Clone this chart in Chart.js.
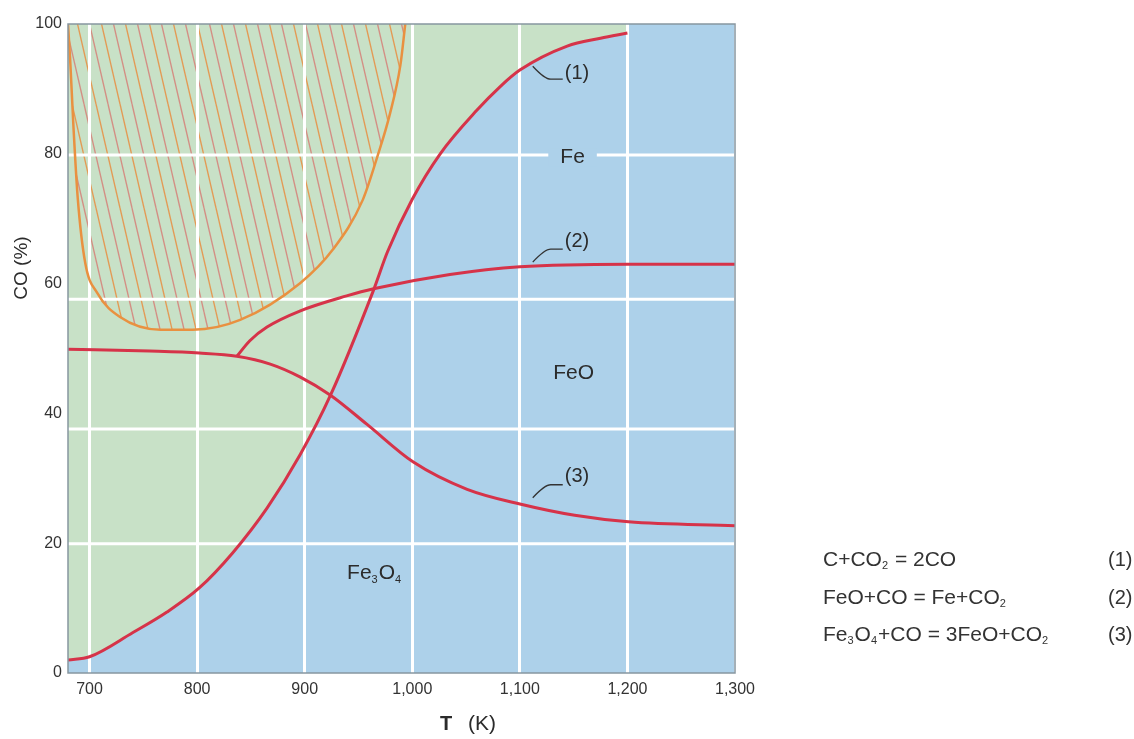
<!DOCTYPE html>
<html lang="en">
<head>
<meta charset="UTF-8">
<title>Fe-C-O equilibrium</title>
<script src="https://cdn.jsdelivr.net/npm/chart.js"></script>
<style>
  html, body { margin: 0; padding: 0; background: #fff; }
  #wrap { width: 1134px; height: 739px; }
</style>
</head>
<body>
<div id="wrap"><canvas id="chart" width="1134" height="739"></canvas></div>
<script>
// (1) C + CO2 = 2CO
const curve1T  = [680, 700, 740, 772, 802, 833, 865, 896, 924, 964, 977, 1000, 1026, 1060, 1082, 1100, 1144, 1175, 1200];
const curve1CO = [2.0, 2.5, 6.2, 9.4, 13.1, 18.5, 25.4, 33.7, 42.8, 59.0, 64.9, 73.0, 80.0, 86.7, 90.4, 92.9, 96.6, 97.8, 98.6];

// (2) FeO + CO = Fe + CO2
const curve2T  = [837, 849, 865, 896, 939, 964, 1035, 1100, 1200, 1300];
const curve2CO = [48.8, 51.2, 53.3, 55.8, 58.1, 59.2, 61.4, 62.6, 63.0, 63.0];

// (3) Fe3O4 + CO = 3FeO + CO2
const curve3T  = [680, 756, 802, 837, 868, 896, 924, 958, 1001, 1051, 1101, 1151, 1201, 1300];
const curve3CO = [49.9, 49.6, 49.3, 48.8, 47.6, 45.6, 42.8, 38.3, 32.5, 28.3, 26.0, 24.3, 23.3, 22.7];

// hatched zone (orange boundary)
const sootT  = [680, 682, 685, 689, 696, 707, 728, 766, 796, 840, 896, 926, 954, 968, 979, 989, 993.5];
const sootCO = [100, 94.5, 84.4, 73.3, 63.2, 58.6, 54.9, 52.9, 52.9, 54.4, 60.1, 65.2, 72.9, 79.8, 86.0, 93.7, 100];

// blue field continues to the top right of where curve (1) ends
const edgeT  = [1200, 1300];
const edgeCO = [100, 100];

const xTickValues = [700, 800, 900, 1000, 1100, 1200, 1300];
const yTickValues = [0, 20, 40, 60, 80, 100];
// the source figure's horizontal rules sit a little below its 40 / 60 labels
const yRuleValues = [19.9, 37.6, 57.6, 79.8];

// region names ("_3" = subscript 3)
const regionNames = ['Fe', 'FeO', 'Fe_3O_4'];
const regionT     = [1149, 1150, 965];
const regionCO    = [79.5, 46.2, 15.3];
const regionGap   = [true, false, false];

// curve tags with their leader lines
const tagNames = ['(1)', '(2)', '(3)'];
const tagT     = [1112, 1112, 1112];
const tagCO    = [93.5, 63.3, 27.0];

const equations = ['C+CO_2 = 2CO', 'FeO+CO = Fe+CO_2', 'Fe_3O_4+CO = 3FeO+CO_2'];
const eqNumbers = ['(1)', '(2)', '(3)'];

const FONT = '"Liberation Sans", Arial, sans-serif';
const GREEN = '#c8e1c7';
const BLUE = '#add1ea';
const RED = '#d63349';
const ORANGE = '#e99140';
const INK = '#2b2b2b';
const RULE = '#ffffff';

const pts = (xs, ys) => xs.map((x, i) => ({x: x, y: ys[i]}));

function hatchPattern() {
  const c = document.createElement('canvas');
  c.width = 24; c.height = 104;
  const g = c.getContext('2d');
  g.lineWidth = 1.4;
  [-24, -12, 0, 12, 24].forEach(x0 => {
    g.strokeStyle = (x0 / 12) % 2 === 0 ? '#e39a55' : '#d38f84';
    g.beginPath();
    g.moveTo(x0, 0);
    g.lineTo(x0 + 24, 104);
    g.stroke();
  });
  return g.createPattern(c, 'repeat');
}

// text with "_n" subscripts
function formula(ctx, text, x, y, size, dry) {
  const parts = text.split(/(_\d)/);
  let cx = x;
  parts.forEach(p => {
    if (!p) return;
    if (p[0] === '_') {
      ctx.font = Math.round(size * 0.5) + 'px ' + FONT;
      if (!dry) ctx.fillText(p.slice(1), cx, y + size * 0.3);
      cx += ctx.measureText(p.slice(1)).width + 1;
    } else {
      ctx.font = size + 'px ' + FONT;
      if (!dry) ctx.fillText(p, cx, y);
      cx += ctx.measureText(p).width;
    }
  });
  return cx - x;
}

function drawRules(chart) {
  const {ctx, chartArea: a} = chart;
  chart.scales.x.drawGrid(a);
  ctx.save();
  ctx.strokeStyle = RULE;
  ctx.lineWidth = 3;
  yRuleValues.forEach(v => {
    const py = chart.scales.y.getPixelForValue(v);
    ctx.beginPath();
    ctx.moveTo(a.left, py);
    ctx.lineTo(a.right, py);
    ctx.stroke();
  });
  ctx.restore();
}

const decor = {
  id: 'decor',
  beforeDraw(chart) {
    const {ctx, chartArea: a} = chart;
    ctx.save();
    ctx.fillStyle = '#fff';
    ctx.fillRect(0, 0, chart.width, chart.height);
    ctx.fillStyle = GREEN;
    ctx.fillRect(a.left, a.top, a.right - a.left, a.bottom - a.top);
    ctx.restore();
  },
  afterDatasetDraw(chart, args) {
    // white rules go over the fields and hatching but under the curves
    if (chart.data.datasets[args.index].gridAfter) drawRules(chart);
  },
  afterDatasetsDraw(chart) {
    const {ctx, chartArea: a} = chart;
    const xs = chart.scales.x, ys = chart.scales.y;
    ctx.save();
    ctx.strokeStyle = '#8796a0';
    ctx.lineWidth = 1.5;
    ctx.strokeRect(a.left, a.top, a.right - a.left, a.bottom - a.top);

    // region names
    ctx.fillStyle = INK;
    ctx.textBaseline = 'middle';
    regionNames.forEach((name, i) => {
      const px = xs.getPixelForValue(regionT[i]);
      const py = ys.getPixelForValue(regionCO[i]);
      const w = formula(ctx, name, 0, 0, 21, true);
      if (regionGap[i]) {
        ctx.fillStyle = BLUE;
        ctx.fillRect(px - w / 2 - 12, py - 9, w + 24, 18);
      }
      ctx.fillStyle = INK;
      formula(ctx, name, px - w / 2, py, 21);
    });

    // leaders + tags
    ctx.strokeStyle = '#333';
    ctx.lineWidth = 1.3;
    ctx.lineJoin = 'round';
    tagNames.forEach((tag, i) => {
      const px = xs.getPixelForValue(tagT[i]);
      const py = ys.getPixelForValue(tagCO[i]);
      const dir = i === 0 ? 1 : -1;
      ctx.beginPath();
      ctx.moveTo(px, py);
      ctx.quadraticCurveTo(px + 12, py + dir * 13, px + 18, py + dir * 13);
      ctx.lineTo(px + 30, py + dir * 13);
      ctx.stroke();
      ctx.font = '20px ' + FONT;
      ctx.textAlign = 'left';
      ctx.fillText(tag, px + 32, py + (i === 0 ? 7 : -21));
    });
    ctx.restore();
  },
  afterDraw(chart) {
    const ctx = chart.ctx;
    ctx.save();
    ctx.fillStyle = INK;
    ctx.textBaseline = 'middle';

    // y title
    ctx.save();
    ctx.translate(22, 268);
    ctx.rotate(-Math.PI / 2);
    ctx.textAlign = 'center';
    ctx.font = '19px ' + FONT;
    ctx.fillText('CO (%)', 0, 0);
    ctx.restore();

    // x title: bold T, plain unit
    ctx.textAlign = 'left';
    ctx.font = 'bold 20px ' + FONT;
    ctx.fillText('T', 440, 724);
    ctx.font = '21px ' + FONT;
    ctx.fillText('(K)', 468, 724);

    // reaction list
    ctx.fillStyle = '#333';
    const rowY = [560, 598, 635];
    equations.forEach((eq, i) => {
      formula(ctx, eq, 823, rowY[i], 21);
      ctx.font = '20px ' + FONT;
      ctx.fillText(eqNumbers[i], 1108, rowY[i]);
    });
    ctx.restore();
  }
};

const tickFont = {family: FONT, size: 16};

new Chart(document.getElementById('chart'), {
  type: 'line',
  data: {
    datasets: [
      {label: 'Fe3O4 field', data: pts(curve1T, curve1CO), fill: 'start', backgroundColor: BLUE,
       borderColor: 'rgba(0,0,0,0)', borderWidth: 0, order: 12},
      {label: 'upper right', data: pts(edgeT, edgeCO), fill: 'start', backgroundColor: BLUE,
       borderColor: 'rgba(0,0,0,0)', borderWidth: 0, order: 11},
      {label: 'hatched', data: pts(sootT, sootCO), fill: 'end', backgroundColor: hatchPattern(),
       borderColor: 'rgba(0,0,0,0)', borderWidth: 0, order: 10, gridAfter: true},
      {label: 'hatch edge', data: pts(sootT, sootCO), fill: false, borderColor: ORANGE, borderWidth: 2.5, order: 4},
      {label: '(1)', data: pts(curve1T, curve1CO), fill: false, borderColor: RED, borderWidth: 3, order: 3},
      {label: '(2)', data: pts(curve2T, curve2CO), fill: false, borderColor: RED, borderWidth: 3, order: 2},
      {label: '(3)', data: pts(curve3T, curve3CO), fill: false, borderColor: RED, borderWidth: 3, order: 1}
    ]
  },
  options: {
    responsive: false,
    animation: false,
    events: [],
    elements: {
      point: {radius: 0, hoverRadius: 0},
      line: {cubicInterpolationMode: 'monotone'}
    },
    layout: {padding: {left: 0, top: 24, right: 399, bottom: 0}},
    plugins: {legend: {display: false}, tooltip: {enabled: false}},
    scales: {
      x: {
        type: 'linear', min: 680, max: 1300,
        afterBuildTicks: s => { s.ticks = xTickValues.map(v => ({value: v})); },
        afterFit: s => { s.height = 66; },
        grid: {color: RULE, lineWidth: 3, drawTicks: false},
        border: {display: false},
        ticks: {padding: 7, color: '#333', font: tickFont, maxRotation: 0,
                callback: v => v.toLocaleString('en-US')}
      },
      y: {
        min: 0, max: 100,
        afterBuildTicks: s => { s.ticks = yTickValues.map(v => ({value: v})); },
        afterFit: s => { s.width = 68; },
        grid: {display: false, drawTicks: false},
        border: {display: false},
        ticks: {padding: 6, color: '#333', font: tickFont}
      }
    }
  },
  plugins: [decor]
});
</script>
</body>
</html>
